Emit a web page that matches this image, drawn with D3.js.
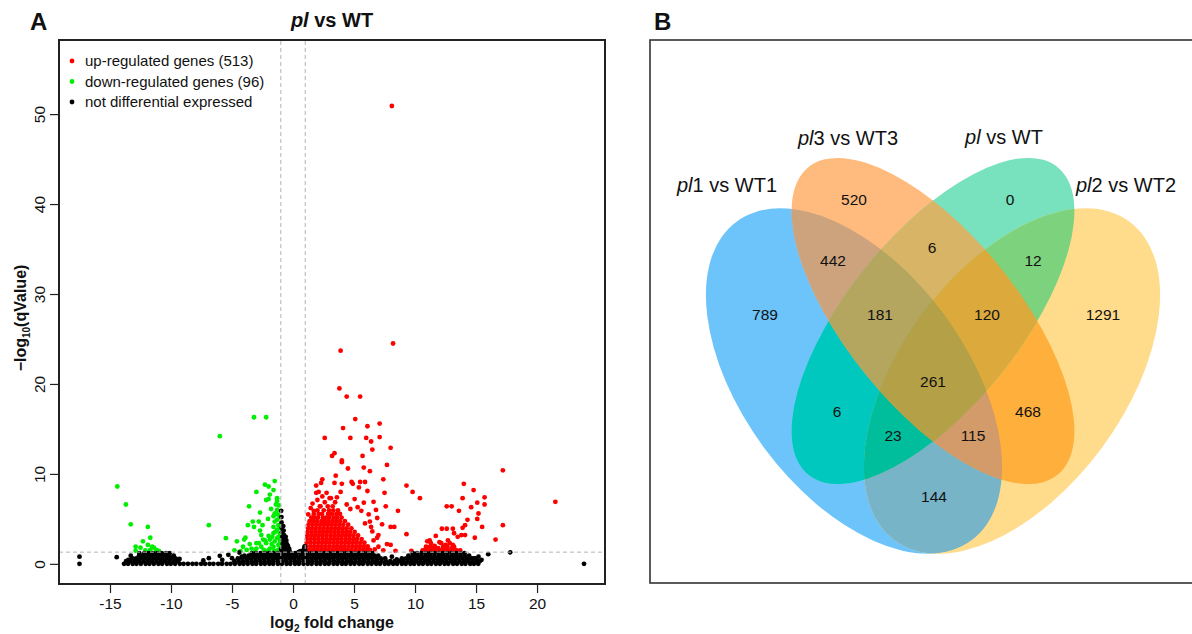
<!DOCTYPE html>
<html><head><meta charset="utf-8">
<script src="https://cdn.jsdelivr.net/npm/d3@7"></script>
<style>
body{margin:0;background:#fff;}
svg{display:block;font-family:Arial,"Liberation Sans",Helvetica,sans-serif;}
</style></head><body>
<svg id="chart" width="1192" height="634"></svg>
<script>
// ---------------- Panel A data (volcano plot) ----------------
const xTicks = [-15,-10,-5,0,5,10,15,20];
const yTicks = [0,10,20,30,40,50];
const legendLabels = ["up-regulated genes (513)","down-regulated genes (96)","not differential expressed"];
const fcCut = 1;          // |log2 FC| threshold
const qCut = 0.05;        // q-value threshold

// down-regulated genes [log2FC, -log10 q]
const downPts = [[-14.4,8.6],[-13.7,6.6],[-13.3,4.4],[-11.9,4.1],[-11.7,2.9],[-11.9,2.1],[-12.3,2.5],[-12.9,1.9],[-12.5,1.8],[-11.4,1.8],[-11.2,1.55],[-11.0,1.44],[-11.7,1.55],[-6.0,14.2],[-3.2,16.3],[-2.2,16.3],[-6.9,4.3],[-5.5,2.85],[-4.8,1.5],[-4.6,2.5],[-4.0,2.7],[-3.6,6.4],[-2.7,5.7],[-3.0,8.0],[-2.3,8.8],[-2.0,8.6],[-1.5,9.2],[-1.6,8.2],[-1.9,7.7],[-2.0,7.2],[-2.2,7.1],[-1.3,7.3],[-1.3,7.0],[-1.3,6.0],[-1.5,5.6],[-3.7,4.3],[-3.3,4.7],[-3.2,4.1],[-2.8,4.7],[-2.5,4.3],[-1.6,5.3],[-1.5,4.7],[-1.6,4.1],[-1.3,3.8],[-1.6,3.4],[-2.0,3.1],[-1.9,2.7],[-2.2,2.3],[-2.6,1.9],[-3.0,2.3],[-3.0,1.7],[-3.4,1.7],[-3.8,1.55],[-2.4,1.55],[-1.5,2.5],[-1.2,3.0],[-1.2,2.1],[-1.2,1.55],[-1.6,1.9],[-1.9,1.7],[-2.2,1.4],[-1.3,4.9],[-1.2,4.3],[-1.07,4.0],[-1.07,3.4],[-1.07,2.7],[-1.07,1.9],[-1.3,2.85],[-1.7,3.0],[-2.6,3.2],[-2.8,2.3],[-4.1,1.9],[-4.3,1.4],[-3.1,1.4],[-1.1,5.2],[-1.15,6.5],[-1.4,6.6],[-1.8,6.1],[-1.35,1.45],[-1.75,2.2],[-2.45,2.7],[-1.45,3.55],[-1.05,2.35],[-1.1,1.45],[-3.55,2.2],[-2.05,5.0],[-2.7,3.7],[-1.25,5.5],[-1.55,1.45],[-2.0,1.5],[-2.3,2.6],[-3.9,2.9],[-12.1,1.5],[-11.55,1.9],[-12.9,1.45]];

// up-regulated genes, scattered points [log2FC, -log10 q]
const upScatter = [[8.1,50.9],[8.2,24.5],[3.9,23.7],[3.8,19.5],[4.4,18.6],[5.5,18.6],[5.1,16.1],[4.1,15.1],[6.1,15.3],[7.1,15.6],[2.6,14.0],[4.7,14.0],[6.0,14.0],[7.1,14.1],[6.4,13.6],[6.5,12.7],[8.0,12.9],[3.4,12.3],[3.2,12.0],[5.7,12.0],[4.0,11.5],[4.0,11.3],[7.7,11.0],[4.5,10.6],[5.8,10.7],[6.3,10.3],[3.5,9.8],[2.4,9.4],[7.4,9.4],[2.3,9.0],[3.4,9.0],[4.0,8.9],[4.8,9.1],[5.5,9.1],[5.9,9.1],[4.9,8.9],[5.4,8.5],[3.9,8.0],[6.1,8.1],[7.5,7.9],[1.9,8.7],[2.1,8.0],[1.9,7.9],[2.4,7.5],[3.0,7.3],[3.6,7.4],[1.6,6.7],[2.2,6.4],[5.3,6.3],[7.6,6.4],[6.8,6.0],[8.6,5.9],[1.7,5.9],[6.9,5.1],[6.3,4.7],[8.0,4.1],[8.3,4.1],[9.3,3.3],[7.0,3.2],[7.7,2.2],[8.0,2.1],[8.4,1.45],[9.7,1.45],[7.0,1.9],[9.3,8.7],[9.8,8.0],[10.4,7.3],[17.2,10.4],[21.5,6.9],[14.0,8.9],[14.8,8.2],[13.9,7.3],[15.7,7.4],[15.1,6.8],[15.7,6.6],[14.6,6.3],[12.6,6.4],[13.0,6.4],[13.6,5.9],[15.2,5.6],[15.1,5.0],[14.3,4.9],[14.1,4.3],[13.9,4.0],[15.5,4.1],[17.2,4.3],[12.2,3.9],[12.6,3.9],[13.1,3.9],[13.2,3.4],[13.8,3.2],[14.1,3.2],[13.5,3.0],[14.9,2.9],[16.6,2.7],[11.7,3.1],[11.2,2.6],[11.0,2.5],[12.7,2.6],[12.0,2.4],[12.5,2.1],[11.6,2.0],[13.1,2.1],[11.0,1.85],[11.4,1.75],[11.9,1.75],[12.6,1.6],[13.0,1.75],[13.3,1.55],[10.8,1.55],[12.2,1.55],[6.6,2.6],[6.9,2.9],[6.5,3.6],[7.3,4.4],[6.7,1.6],[7.4,1.5],[6.4,4.1],[5.9,4.5],[6.2,5.5],[5.6,5.9],[4.7,6.1],[4.4,6.6],[2.75,7.9],[1.45,6.2],[1.25,5.5],[5.05,7.2],[5.8,6.8],[6.6,6.9],[2.0,7.1]];

// up-regulated genes, dense cluster: one array of log2FC per -log10 q level
const upRowY = [1.55,1.95,2.35,2.75,3.15,3.55,3.95,4.35,4.75,5.15,5.55,5.95,6.4,6.85,7.3,1.5,1.9,2.3];
const upRowX = [
 [1.08,1.38,1.7,2.0,2.31,2.62,2.93,3.25,3.56,3.86,4.18,4.49,4.8,5.12,5.43,5.74,6.05,6.3],
 [1.1,1.42,1.73,2.05,2.36,2.66,2.98,3.3,3.6,3.92,4.23,4.55,4.86,5.17,5.48,5.8,6.12],
 [1.12,1.44,1.76,2.07,2.38,2.7,3.01,3.33,3.64,3.95,4.27,4.58,4.9,5.21,5.52,5.85],
 [1.14,1.46,1.78,2.09,2.41,2.72,3.04,3.36,3.67,3.98,4.3,4.61,4.93,5.24,5.62],
 [1.17,1.49,1.8,2.12,2.43,2.75,3.07,3.38,3.7,4.01,4.33,4.64,4.96,5.33],
 [1.2,1.52,1.83,2.15,2.46,2.78,3.09,3.41,3.72,4.04,4.36,4.67,5.05],
 [1.24,1.56,1.87,2.19,2.5,2.82,3.13,3.45,3.76,4.08,4.4,4.78],
 [1.28,1.6,1.92,2.23,2.55,2.86,3.18,3.49,3.81,4.12,4.52],
 [1.36,1.65,1.97,2.33,2.6,2.91,3.23,3.54,3.86,4.25],
 [1.5,1.78,2.05,2.45,2.7,3.0,3.35,3.63,3.98],
 [1.7,2.1,2.38,2.87,3.18,3.55,3.85],
 [2.0,2.52,2.95,3.3,3.68],
 [2.25,2.85,3.25],
 [2.6,3.45],
 [3.1],
 [10.62,10.97,11.31,11.66,12.02,12.37,12.71,13.06,13.41,13.7],
 [10.9,11.25,11.6,12.3,12.65,13.2],
 [11.3,12.15,12.85]
];

// not differential expressed: dense band, one array of log2FC per -log10 q level
const nsRowY = [0,0.3,0.62,0.92,1.18];
const nsRowX = [
 [-13.85,-13.52,-13.14,-12.83,-12.47,-12.08,-11.77,-11.41,-11.03,-10.72,-10.33,-10.02,-9.66,-9.28,-8.97,-8.61,-8.24,-7.92,-7.53,-7.21,-6.84,-6.52,-6.13,-5.82,-5.44,-5.12,-4.76,-4.38,-4.06,-3.71,-3.33,-3.02,-2.64,-2.31,-1.94,-1.62,-1.24,-0.91,-0.53,-0.22,0.16,0.48,0.86,1.21,1.53,1.92,2.24,2.61,2.93,3.32,3.64,4.02,4.33,4.71,5.04,5.42,5.73,6.12,6.44,6.82,7.13,7.52,7.84,8.21,8.53,8.92,9.24,9.62,9.93,10.31,10.64,11.02,11.33,11.71,12.04,12.42,12.73,13.12,13.44,13.82,14.13,14.52,14.83,15.18],
 [-13.68,-13.33,-12.97,-12.62,-12.26,-11.91,-11.55,-11.2,-10.84,-10.49,-10.13,-9.78,-9.42,-4.81,-4.46,-4.1,-3.75,-3.39,-3.04,-2.68,-2.33,-1.97,-1.62,-1.26,-0.91,-0.55,-0.2,0.16,0.51,0.87,1.22,1.58,1.93,2.29,2.64,3.0,3.35,3.71,4.06,4.42,4.77,5.13,5.48,5.84,6.19,6.55,6.9,7.26,7.61,7.97,8.32,8.68,9.03,9.39,9.74,10.1,10.45,10.81,11.16,11.52,11.87,12.23,12.58,12.94,13.29,13.65,14.0,14.36,14.71,15.07,15.3],
 [-13.18,-12.83,-12.47,-12.12,-11.76,-11.41,-11.05,-10.7,-10.34,-9.99,-9.63,-4.52,-4.17,-3.81,-3.46,-3.1,-2.75,-2.39,-2.04,-1.68,-1.33,-0.97,-0.62,-0.26,0.09,0.45,0.8,1.16,1.51,1.87,2.22,2.58,2.93,3.29,3.64,4.0,4.35,4.71,5.06,5.42,5.77,6.13,6.48,6.84,7.19,7.55,8.92,9.27,9.63,9.98,10.34,10.69,11.05,11.4,11.76,12.11,12.47,12.82,13.18,13.53,13.89,14.24,14.6,14.95],
 [-12.62,-12.27,-11.91,-11.56,-11.2,-10.85,-10.49,-10.14,-9.78,-3.98,-3.63,-3.27,-2.92,-2.56,-2.21,-1.85,-1.5,-1.14,-0.79,-0.43,-0.08,0.28,0.63,0.99,1.34,1.7,2.05,2.41,2.76,3.12,3.47,3.83,4.18,4.54,4.89,5.25,5.6,5.96,6.31,6.67,6.98,9.46,9.81,10.17,10.52,10.88,11.23,11.59,11.94,12.3,12.65,13.01,13.36,13.72,14.07,14.43],
 [-12.18,-11.83,-11.47,-11.12,-10.76,-10.41,-10.12,-3.38,-3.03,-2.67,-2.32,-1.96,-1.61,-1.25,-0.9,-0.54,-0.19,0.17,0.82,1.17,1.53,1.88,2.24,2.59,2.95,3.3,3.66,4.01,4.37,4.72,5.08,5.43,5.79,6.14,6.5,9.82,10.17,10.53,10.88,11.24,11.59,11.95,12.3,12.66,13.01,13.37,13.72,14.05]
];
// not differential expressed: scattered points
const nsScatter = [[-17.5,0.8],[-17.5,0],[-14.45,0.74],[-13.5,0.45],[-13.3,0.9],[-13.0,0.55],[-12.6,1.2],[-12.4,0.9],[-10.35,1.0],[-9.5,0.45],[-9.3,0.55],[-7.35,0.37],[-6.9,0.63],[-6.0,0.89],[-5.8,0.44],[-5.3,1.0],[-5.0,0.63],[-4.4,1.26],[-4.2,0.81],[-0.97,5.9],[-0.95,5.2],[-0.94,4.6],[-0.92,4.0],[-0.9,3.5],[-0.88,3.0],[-0.86,2.6],[-0.84,2.2],[-0.82,1.8],[-0.8,4.2],[-0.77,3.7],[-0.74,3.2],[-0.71,2.8],[-0.67,2.4],[-0.63,2.0],[-0.6,1.6],[-0.6,3.0],[-0.55,2.6],[-0.5,2.2],[-0.46,1.8],[-0.42,2.0],[-0.38,1.5],[-0.32,1.7],[-0.28,1.4],[-0.96,1.6],[-0.93,1.45],[-0.7,1.4],[0.95,1.95],[0.9,1.65],[0.86,1.45],[0.98,1.55],[0.45,1.3],[0.6,1.4],[16.0,1.08],[17.8,1.28],[23.85,0],[15.2,0.8],[14.8,0.6],[15.45,0.45],[8.1,0.8],[8.5,0.5]];

// ---------------- Panel B data (Venn diagram) ----------------
const setCodes = ["B","O","G","Y"];
const setItalic = ["pl","pl","pl","pl"];
const setRest = ["1 vs WT1","3 vs WT3"," vs WT","2 vs WT2"];
const regionCodes = ["B","O","G","Y","BO","BG","BY","OG","OY","GY","BOG","BOY","BGY","OGY","BOGY"];
const regionCounts = [789,520,0,1291,442,6,144,6,468,12,181,115,23,120,261];

// ---------------- styles / layout ----------------
const upColor = "#ff0000", downColor = "#00ee00", nsColor = "#000000";
const ptR = 2.4;
const regionColor = {B:"#6cc4fb",O:"#ffbb7d",G:"#78e1be",Y:"#ffdc8c",BO:"#cda37d",BG:"#00c8be",BY:"#78b4c8",OG:"#d8b466",OY:"#ffaf3c",GY:"#7dd27d",BOG:"#b4a55f",BOY:"#d29b69",BGY:"#00be9b",OGY:"#dcaa3c",BOGY:"#b4a046"};
const ellipseGeom = {B:{cx:854,cy:381,a:198,b:112,rot:53.6},O:{cx:933,cy:321,a:198,b:86,rot:51},G:{cx:933,cy:321,a:198,b:86,rot:129},Y:{cx:1012,cy:381,a:198,b:112,rot:126.4}};
const regionPos = {B:[765,314],O:[854,199],G:[1010,199],Y:[1103,314],BO:[833,260],OG:[932,247],GY:[1033,260],BOG:[880,314],OGY:[987,314],BOGY:[933,381],BG:[837,411],BGY:[893,435],BOY:[973,435],OY:[1028,411],BY:[934,496]};
const setLabelPos = [[727,192],[848,145],[1004,144],[1126,192]];

const svg = d3.select("#chart");

// ================= Panel A =================
const x = d3.scaleLinear().domain([-19.18,25.57]).range([59,605]);
const y = d3.scaleLinear().domain([-2.24,58.24]).range([584,40]);
const gA = svg.append("g");

const nsPts = [];
nsRowX.forEach((xs,i)=>xs.forEach(v=>nsPts.push([v,nsRowY[i]])));
nsScatter.forEach(p=>nsPts.push(p));
const upPts = [];
upRowX.forEach((xs,i)=>xs.forEach(v=>upPts.push([v,upRowY[i]])));
upScatter.forEach(p=>upPts.push(p));

gA.append("g").selectAll("circle").data(upPts).join("circle")
  .attr("cx",d=>x(d[0])).attr("cy",d=>y(d[1])).attr("r",ptR).attr("fill",upColor);
gA.append("g").selectAll("circle").data(downPts).join("circle")
  .attr("cx",d=>x(d[0])).attr("cy",d=>y(d[1])).attr("r",ptR).attr("fill",downColor);
gA.append("g").selectAll("circle").data(nsPts).join("circle")
  .attr("cx",d=>x(d[0])).attr("cy",d=>y(d[1])).attr("r",ptR).attr("fill",nsColor);

// threshold lines
gA.selectAll("line.vcut").data([-fcCut,fcCut]).join("line").attr("class","vcut")
  .attr("x1",d=>x(d)).attr("x2",d=>x(d)).attr("y1",y.range()[0]).attr("y2",y.range()[1])
  .attr("stroke","#b4b4b4").attr("stroke-width",1).attr("stroke-dasharray","4,3");
gA.append("line")
  .attr("x1",x.range()[0]).attr("x2",x.range()[1]).attr("y1",y(-Math.log10(qCut))).attr("y2",y(-Math.log10(qCut)))
  .attr("stroke","#b4b4b4").attr("stroke-width",1).attr("stroke-dasharray","4,3");

// frame
gA.append("rect").attr("x",59).attr("y",40).attr("width",546).attr("height",544)
  .attr("fill","none").attr("stroke","#222").attr("stroke-width",2);

// axes
const xAxis = gA.append("g").attr("transform","translate(0,584)")
  .call(d3.axisBottom(x).tickValues(xTicks).tickSize(9).tickPadding(5).tickFormat(d=>String(d)));
xAxis.select(".domain").remove();
xAxis.selectAll("line").attr("stroke","#222").attr("stroke-width",1.2);
xAxis.selectAll("text").attr("font-size",15.5).attr("fill","#111").attr("font-family","Arial, 'Liberation Sans', sans-serif");

const yAxis = gA.append("g").attr("transform","translate(59,0)")
  .call(d3.axisLeft(y).tickValues(yTicks).tickSize(9).tickFormat(d=>String(d)));
yAxis.select(".domain").remove();
yAxis.selectAll("line").attr("stroke","#222").attr("stroke-width",1.2);
yAxis.selectAll("text").attr("font-size",15.5).attr("fill","#111").attr("font-family","Arial, 'Liberation Sans', sans-serif")
  .attr("transform","rotate(-90)").attr("x",0).attr("y",-14).attr("dy",0).attr("text-anchor","middle");

// axis titles
const xt = gA.append("text").attr("x",332).attr("y",628).attr("text-anchor","middle")
  .attr("font-size",16).attr("font-weight","bold").attr("fill","#111");
xt.append("tspan").text("log");
xt.append("tspan").attr("font-size",10).attr("dy",4).text("2");
xt.append("tspan").attr("dy",-4).text(" fold change");

const yt = gA.append("text").attr("transform","translate(26,318) rotate(-90)").attr("text-anchor","middle")
  .attr("font-size",16).attr("font-weight","bold").attr("fill","#111");
yt.append("tspan").text("\u2212log");
yt.append("tspan").attr("font-size",10).attr("dy",4).text("10");
yt.append("tspan").attr("dy",-4).text("(qValue)");

// title
const tt = gA.append("text").attr("x",332).attr("y",27).attr("text-anchor","middle")
  .attr("font-size",20).attr("font-weight","bold").attr("fill","#111");
tt.append("tspan").attr("font-style","italic").text("pl");
tt.append("tspan").text(" vs WT");

// legend
const legColors = [upColor,downColor,nsColor];
const leg = gA.append("g").selectAll("g").data(legendLabels).join("g")
  .attr("transform",(d,i)=>`translate(72,${61+i*20.5})`);
leg.append("circle").attr("r",ptR).attr("fill",(d,i)=>legColors[i]);
leg.append("text").attr("x",13).attr("y",5).attr("font-size",15).attr("fill","#111").text(d=>d);

// panel letters
svg.append("text").attr("x",30).attr("y",30).attr("font-size",24).attr("font-weight","bold").attr("fill","#111").text("A");
svg.append("text").attr("x",654).attr("y",30).attr("font-size",24).attr("font-weight","bold").attr("fill","#111").text("B");

// ================= Panel B =================
const gB = svg.append("g");
const defs = svg.append("defs");
setCodes.forEach(k=>{
  const e = ellipseGeom[k];
  defs.append("clipPath").attr("id","clip-"+k).append("ellipse")
    .attr("cx",e.cx).attr("cy",e.cy).attr("rx",e.a).attr("ry",e.b)
    .attr("transform",`rotate(${e.rot},${e.cx},${e.cy})`);
});
const order = regionCodes.map((c,i)=>i).sort((a,b)=>regionCodes[a].length-regionCodes[b].length);
order.forEach(i=>{
  const code = regionCodes[i];
  const letters = code.split("");
  let g = gB.append("g");
  letters.slice(1).forEach(L=>{ g = g.append("g").attr("clip-path",`url(#clip-${L})`); });
  const e = ellipseGeom[letters[0]];
  g.append("ellipse").attr("cx",e.cx).attr("cy",e.cy).attr("rx",e.a).attr("ry",e.b)
    .attr("transform",`rotate(${e.rot},${e.cx},${e.cy})`).attr("fill",regionColor[code]);
});
gB.append("g").selectAll("text").data(regionCodes).join("text")
  .attr("x",d=>regionPos[d][0]).attr("y",d=>regionPos[d][1]+5.5)
  .attr("text-anchor","middle").attr("font-size",15.5).attr("fill","#111")
  .text((d,i)=>regionCounts[i]);
const sl = gB.append("g").selectAll("text").data(setCodes).join("text")
  .attr("x",(d,i)=>setLabelPos[i][0]).attr("y",(d,i)=>setLabelPos[i][1])
  .attr("text-anchor","middle").attr("font-size",20).attr("fill","#111");
sl.append("tspan").attr("font-style","italic").text((d,i)=>setItalic[i]);
sl.append("tspan").text((d,i)=>setRest[i]);

gB.append("rect").attr("x",650).attr("y",40).attr("width",560).attr("height",543)
  .attr("fill","none").attr("stroke","#333").attr("stroke-width",1.6);
</script>
</body></html>
